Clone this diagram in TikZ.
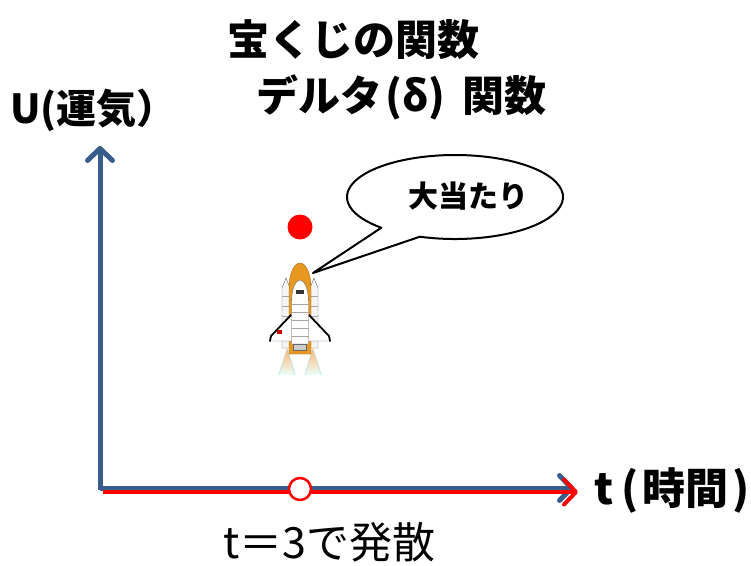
\documentclass[tikz,border=0pt]{standalone}
\usepackage{fontspec}
\newfontfamily\jpfont{Noto Sans CJK JP}
\usetikzlibrary{arrows.meta,positioning}

\definecolor{axisblue}{RGB}{56,93,138}
\definecolor{tankorange}{RGB}{232,152,32}

\begin{document}
\begin{tikzpicture}[x=1pt,y=-1pt,>={Straight Barb[length=12pt,width=25pt,round]}]
        \tikzset{axis/.style={draw=axisblue,line width=5pt,->},
        redaxis/.style={draw=red,line width=4pt,->},
        bigtext/.style={inner sep=0pt,anchor=west,font=\jpfont\bfseries\fontsize{42}{48}\selectfont},
        plaintext/.style={inner sep=0pt,anchor=west,font=\jpfont\fontsize{43}{48}\selectfont},
        bubble/.style={draw=black,line width=2pt,fill=white,line join=round},
        hull/.style={draw=black!60,line width=0.4pt}
        }
        \useasboundingbox (0,0) rectangle (751,565);

%% titles and axis labels
        \node [bigtext] (title1) at (227,40) {宝くじの関数};
        \node [bigtext] (title2) at (256,97) {デルタ\hspace{0.08em}(δ)\hspace{0.4em}関数};
        \node [bigtext,font=\jpfont\bfseries\fontsize{40}{46}\selectfont] (ylabel) at (10,110) {U(運気）};
        \node [bigtext,font=\jpfont\bfseries\fontsize{43}{48}\selectfont] (xlabel) at (594,490)
              {t\hspace{0.2em}(\hspace{0.08em}時間\hspace{0.08em})};
        \node [plaintext] (note) at (223,542) {t＝3で発散};

%% axes
        \coordinate (origin) at (100,490);
        \coordinate (ytip) at (100,146);
        \coordinate (xtip) at (574,488);
        \coordinate (rstart) at (103,492);
        \coordinate (rtip) at (578,492);
        \path[axis] (origin |- xtip) -- (xtip);
        \path[axis] (origin) -- (ytip);
        \path[redaxis] (rstart) -- (rtip);

        \node [circle,fill=red,minimum size=25pt,inner sep=0pt] (peak) at (300,227) {};
        \node [circle,draw=red,line width=2.5pt,fill=white,minimum size=22pt,inner sep=0pt] (hole) at (300,489) {};

%% speech bubble
        \coordinate (bubc) at (455,197);
        \coordinate (tailtip) at (313,273);
        \path[bubble] (bubc) ++(109:108 and 42)
             arc[start angle=109,end angle=-227,x radius=108,y radius=42]
             -- (tailtip) -- cycle;
        \node [font=\jpfont\bfseries\fontsize{30}{35}\selectfont,inner sep=0pt] (hit) at (468,196) {大当たり};

%% shuttle
        \begin{scope}[shift={(300,318)}]
          \foreach \s in {-1,1} {
            \begin{scope}[xscale=\s]
              \shade[top color=orange!60,bottom color=cyan!8] (-13,30) -- (-22,57) -- (-4,57) -- cycle;
              \draw[cyan!30,line width=0.6pt] (-13,32) -- (-21,57) (-12,32) -- (-5,57);
              \draw[hull,fill=gray!8] (-18,30) -- (-18,-30) -- (-14,-40) -- (-10,-30) -- (-10,30) -- cycle;
              \foreach \y in {-22,-12,-2,8,18} \draw[black!35] (-18,\y) -- (-10,\y);
            \end{scope}
          }
          \draw[draw=tankorange!70!black,line width=0.4pt,fill=tankorange] (-11,36) -- (-11,-30)
               .. controls (-11,-46) and (-5,-55) .. (0,-55)
               .. controls (5,-55) and (11,-46) .. (11,-30) -- (11,36) -- cycle;
          \foreach \s in {-1,1} {
            \begin{scope}[xscale=\s]
              \draw[hull,fill=white] (-8,-4) -- (-29,18) -- (-30,23) -- (-8,23) -- cycle;
              \draw[black,line width=1.8pt,line cap=round] (-9,-3) -- (-29,18) -- (-30,23);
            \end{scope}
          }
          \draw[hull,fill=white] (-8.5,26) -- (-8.5,-16)
               .. controls (-8.5,-30) and (-4,-38) .. (0,-38)
               .. controls (4,-38) and (8.5,-30) .. (8.5,-16) -- (8.5,26) -- cycle;
          \foreach \y in {-14,-6,2,10,18} \draw[black!35] (-8.5,\y) -- (8.5,\y);
          \fill[black!80] (-4,-28) rectangle (4,-24);
          \fill[red!80!black] (-23,12) rectangle (-18,16);
          \draw[hull,fill=gray!40] (-6.5,26) rectangle (6.5,32);
        \end{scope}
\end{tikzpicture}
\end{document}
